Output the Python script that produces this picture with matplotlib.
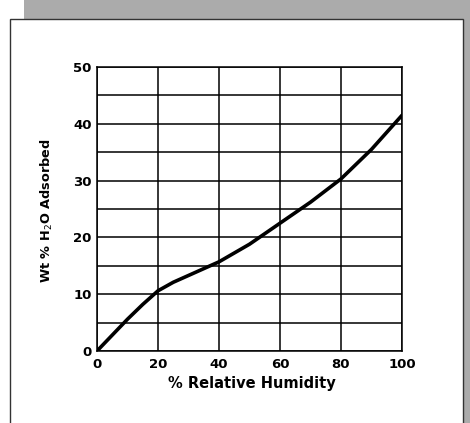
import matplotlib.pyplot as plt
from matplotlib.patches import Rectangle

# % relative humidity vs wt % water adsorbed
humidity = [0, 5, 10, 15, 20, 25, 30, 40, 50, 60, 70, 80, 90, 100]
adsorbed = [0, 2.8, 5.6, 8.2, 10.6, 12.1, 13.3, 15.7, 18.8, 22.5, 26.2, 30.3, 35.5, 41.5]

xticks = [0, 20, 40, 60, 80, 100]
yticks = [0, 10, 20, 30, 40, 50]
ygrid = list(range(0, 51, 5))

plt.rcParams['font.family'] = ['DejaVu Sans']

W, H = 470, 423
fig = plt.figure(figsize=(W / 100, H / 100), dpi=100)
fig.patch.set_facecolor('white')

# grey scanner margins (top strip and right strip)
fig.patches.append(Rectangle((24 / W, 1 - 19 / H), 1, 19 / H, transform=fig.transFigure,
                             facecolor='#ababab', edgecolor='none', zorder=-6))
fig.patches.append(Rectangle((464 / W, 0), 6 / W, 1, transform=fig.transFigure,
                             facecolor='#ababab', edgecolor='none', zorder=-6))
# white page panel
fig.patches.append(Rectangle((10 / W, -0.01), 453 / W, 1 - 19 / H + 0.01,
                             transform=fig.transFigure, facecolor='white',
                             edgecolor='#333333', linewidth=1.0, zorder=-5))

ax = fig.add_axes([97 / W, (H - 351) / H, 305 / W, 284 / H])
ax.set_zorder(5)
ax.set_facecolor('white')

for y in ygrid:
    ax.axhline(y, color='black', linewidth=1.1, zorder=1)
for x in xticks:
    ax.axvline(x, color='black', linewidth=1.1, zorder=1)

ax.plot(humidity, adsorbed, color='black', linewidth=2.6, solid_capstyle='round', zorder=3)

ax.set_xlim(0, 100)
ax.set_ylim(0, 50)
ax.set_xticks(xticks)
ax.set_yticks(yticks)
ax.tick_params(axis='y', length=0, pad=4, labelsize=9.5)
ax.tick_params(axis='x', length=0, pad=5, labelsize=9.5)
for lab in ax.get_xticklabels() + ax.get_yticklabels():
    lab.set_fontweight('bold')
for s in ax.spines.values():
    s.set_linewidth(1.1)

ax.set_xlabel('% Relative Humidity', fontsize=10.5, fontweight='bold')
ax.set_ylabel('Wt % H$_2$O Adsorbed', fontsize=9.3, fontweight='bold')
ax.xaxis.label.set_va('center')
ax.yaxis.label.set_va('center')
ax.xaxis.set_label_coords(0.508, -0.113)
ax.yaxis.set_label_coords(-0.164, 0.496)

fig.savefig('out.png', dpi=100, facecolor=fig.get_facecolor())
